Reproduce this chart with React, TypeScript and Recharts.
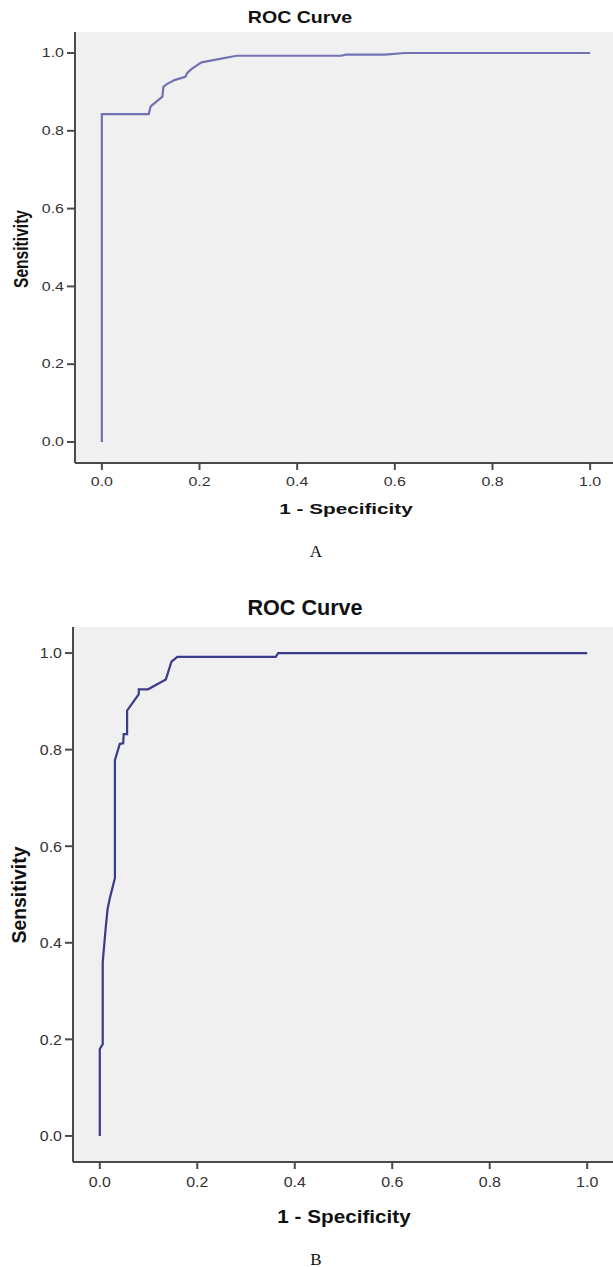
import React from "react";
import { LineChart, Line, XAxis, YAxis, CartesianGrid } from "recharts";

// ---- Data ----
const fprA = [0, 0, 0.096, 0.1, 0.124, 0.126, 0.133, 0.15, 0.171, 0.175, 0.184, 0.204, 0.276, 0.49, 0.5, 0.58, 0.62, 1.0];
const tprA = [0, 0.843, 0.843, 0.863, 0.888, 0.913, 0.92, 0.931, 0.939, 0.949, 0.959, 0.976, 0.993, 0.993, 0.996, 0.996, 1.0, 1.0];

const fprB = [0, 0, 0.006, 0.006, 0.012, 0.016, 0.0205, 0.031, 0.031, 0.041, 0.048, 0.049, 0.056, 0.056, 0.08, 0.08, 0.099, 0.1355, 0.147, 0.159, 0.361, 0.366, 1.0];
const tprB = [0, 0.18, 0.19, 0.36, 0.43, 0.47, 0.492, 0.534, 0.778, 0.812, 0.813, 0.832, 0.832, 0.881, 0.915, 0.925, 0.925, 0.9455, 0.982, 0.992, 0.992, 1.0, 1.0];

const ticks = [0, 0.2, 0.4, 0.6, 0.8, 1.0];
const chartTitle = "ROC Curve";
const xTitle = "1 - Specificity";
const yTitle = "Sensitivity";
const captions = ["A", "B"];

const rowsA = fprA.map((x, i) => ({ x, y: tprA[i] }));
const rowsB = fprB.map((x, i) => ({ x, y: tprB[i] }));

const SANS = '"Liberation Sans", Arial, sans-serif';
const AXIS = "#4a4a4a";
const TICK_TXT = "#333";

const makeXTick = (sx: number, sy: number) => (props: any) => {
  const { x, y, payload } = props;
  return (
    <g transform={`translate(${x},${y})`}>
      <text transform={`scale(${sx},${sy})`} textAnchor="middle" dy="0.71em" fontSize={12} fill={TICK_TXT} fontFamily={SANS}>
        {Number(payload.value).toFixed(1)}
      </text>
    </g>
  );
};
const makeYTick = (sx: number, sy: number) => (props: any) => {
  const { x, y, payload } = props;
  return (
    <g transform={`translate(${x},${y})`}>
      <text transform={`scale(${sx},${sy})`} textAnchor="end" dy="0.355em" fontSize={12} fill={TICK_TXT} fontFamily={SANS}>
        {Number(payload.value).toFixed(1)}
      </text>
    </g>
  );
};

type TxtProps = { cx: number; cy: number; size: number; sx: number; sy: number; bold?: boolean; rotate?: boolean; serif?: boolean; children: React.ReactNode };
const Txt = ({ cx, cy, size, sx, sy, bold, rotate, serif, children }: TxtProps) => (
  <div
    style={{
      position: "absolute",
      left: cx,
      top: cy,
      transform: rotate
        ? `translate(-50%,-50%) rotate(-90deg) scale(${sx},${sy})`
        : `translate(-50%,-50%) scale(${sx},${sy})`,
      fontFamily: serif ? '"Liberation Serif", "Times New Roman", serif' : SANS,
      fontWeight: bold ? 700 : 400,
      fontSize: size,
      lineHeight: 1,
      whiteSpace: "nowrap",
      color: "#111",
    }}
  >
    {children}
  </div>
);

type RocProps = { rows: { x: number; y: number }[]; color: string; height: number; top: number; yAxisW: number; xAxisH: number; right: number; sy: number };
const Roc = ({ rows, color, height, top, yAxisW, xAxisH, right, sy }: RocProps) => (
  <LineChart width={640} height={height} data={rows} margin={{ top, right, bottom: 0, left: 0 }}>
    <CartesianGrid fill="#f0f0f0" stroke="none" horizontal={false} vertical={false} />
    <XAxis
      dataKey="x"
      type="number"
      domain={[-0.055, 1.055]}
      ticks={ticks}
      height={xAxisH}
      tickSize={7}
      tickMargin={7}
      axisLine={{ stroke: AXIS, strokeWidth: 2 }}
      tickLine={{ stroke: AXIS, strokeWidth: 2 }}
      tick={makeXTick(1.33, sy)}
      allowDataOverflow
    />
    <XAxis
      xAxisId="top"
      orientation="top"
      dataKey="x"
      type="number"
      domain={[-0.055, 1.055]}
      height={0}
      tick={false}
      tickLine={false}
      axisLine={{ stroke: "#9a9a9a", strokeWidth: 2 }}
    />
    <YAxis
      type="number"
      domain={[-0.054, 1.054]}
      ticks={ticks}
      width={yAxisW}
      tickSize={8}
      tickMargin={3}
      axisLine={{ stroke: AXIS, strokeWidth: 2 }}
      tickLine={{ stroke: AXIS, strokeWidth: 2 }}
      tick={makeYTick(1.33, sy)}
      allowDataOverflow
    />
    <Line type="linear" dataKey="y" stroke={color} strokeWidth={2.2} dot={false} isAnimationActive={false} />
  </LineChart>
);

export default function App() {
  return (
    <div style={{ position: "absolute", left: 0, top: 0, width: 613, height: 1267, overflow: "hidden", background: "#fff" }}>
      {/* Chart A */}
      <div style={{ position: "absolute", left: 0, top: 0 }}>
        <Roc rows={rowsA} color="#7272b2" height={500} top={32} yAxisW={75} xAxisH={37} right={23} sy={1} />
      </div>
      <Txt cx={300} cy={17} size={17} sx={1.15} sy={1} bold>{chartTitle}</Txt>
      <Txt cx={346} cy={508} size={15} sx={1.38} sy={1} bold>{xTitle}</Txt>
      <Txt cx={20} cy={249} size={15} sx={1.04} sy={1.38} bold rotate>{yTitle}</Txt>
      <Txt cx={316} cy={551} size={17} sx={1} sy={1} serif>{captions[0]}</Txt>

      {/* Chart B */}
      <div style={{ position: "absolute", left: 0, top: 600 }}>
        <Roc rows={rowsB} color="#3b3b8c" height={602} top={27} yAxisW={73} xAxisH={40} right={26} sy={1.25} />
      </div>
      <Txt cx={305} cy={608} size={18} sx={1.2} sy={1.24} bold>{chartTitle}</Txt>
      <Txt cx={344} cy={1216} size={15} sx={1.38} sy={1.24} bold>{xTitle}</Txt>
      <Txt cx={18} cy={895} size={15} sx={1.29} sy={1.38} bold rotate>{yTitle}</Txt>
      <Txt cx={316} cy={1259} size={17} sx={1} sy={1} serif>{captions[1]}</Txt>
    </div>
  );
}
